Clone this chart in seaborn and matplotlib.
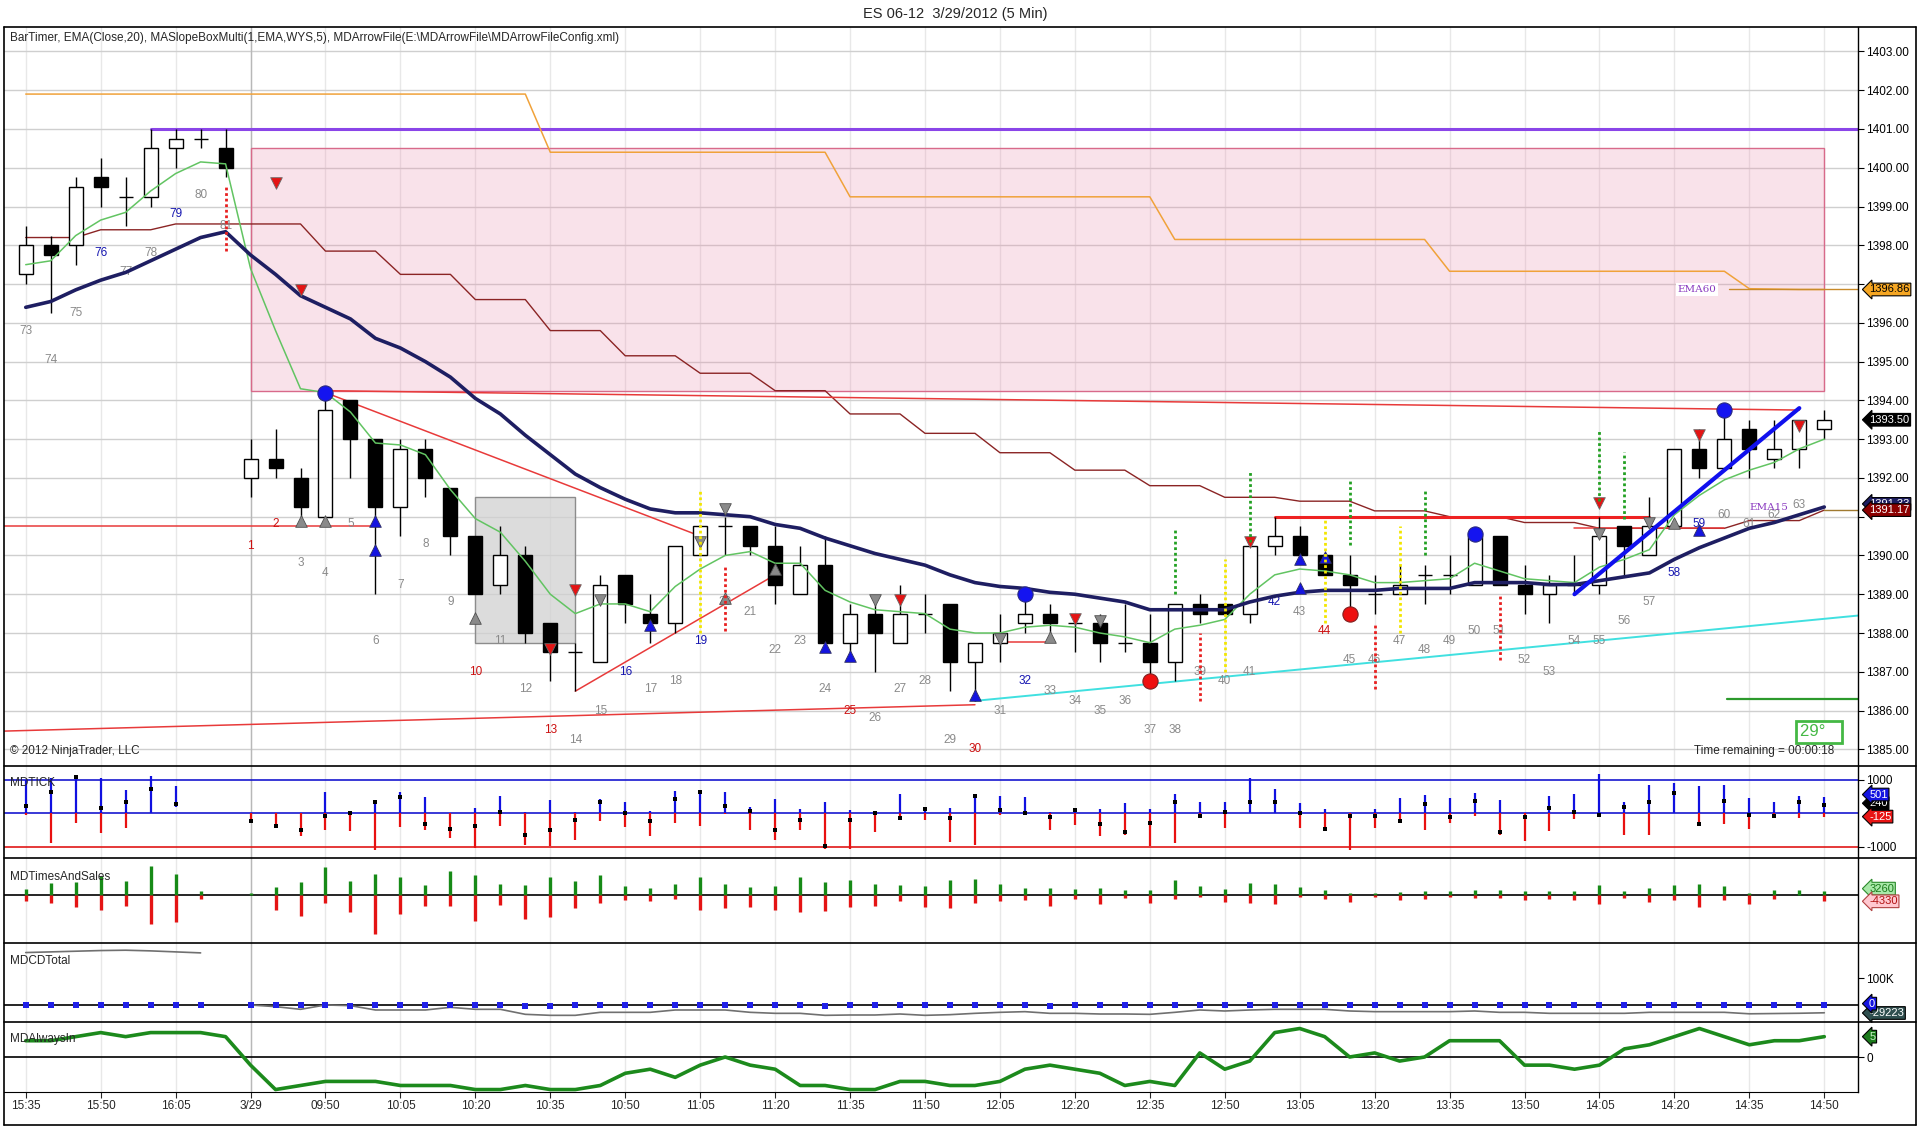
import numpy as np
import matplotlib
matplotlib.use('Agg')
import matplotlib.pyplot as plt
import seaborn as sns
from matplotlib.lines import Line2D
from matplotlib.patches import Rectangle

sns.set_style('white')
plt.rcParams['font.family'] = ['Liberation Sans', 'DejaVu Sans']

# ---------------- data ----------------
time_labels = ['15:35', '15:50', '16:05', '3/29', '09:50', '10:05', '10:20', '10:35', '10:50',
               '11:05', '11:20', '11:35', '11:50', '12:05', '12:20', '12:35', '12:50', '13:05',
               '13:20', '13:35', '13:50', '14:05', '14:20', '14:35', '14:50']
time_label_bars = [0, 3, 6, 9, 12, 15, 18, 21, 24, 27, 30, 33, 36, 39, 42, 45, 48, 51,
                   54, 57, 60, 63, 66, 69, 72]

opens = [1397.25, 1398.0, 1398.0, 1399.75, 1399.25, 1399.25, 1400.5, 1400.75, 1400.5,
         1392.0, 1392.5, 1392.0, 1391.0, 1394.0, 1393.0, 1391.25, 1392.75, 1391.75, 1390.5,
         1389.25, 1390.0, 1388.25, 1387.5, 1387.25, 1389.5, 1388.5, 1388.25, 1390.0, 1390.75,
         1390.75, 1390.25, 1389.0, 1389.75, 1387.75, 1388.5, 1387.75, 1388.5, 1388.75, 1387.25,
         1387.75, 1388.25, 1388.5, 1388.25, 1388.25, 1387.75, 1387.75, 1387.25, 1388.75, 1388.75,
         1388.5, 1390.25, 1390.5, 1390.0, 1389.5, 1389.0, 1389.0, 1389.5, 1389.5, 1389.25,
         1390.5, 1389.25, 1389.0, 1389.25, 1389.25, 1390.75, 1390.0, 1390.75, 1392.75, 1392.25,
         1393.25, 1392.5, 1392.75, 1393.25]
highs = [1398.5, 1398.25, 1399.75, 1400.25, 1399.75, 1401.0, 1401.0, 1401.0, 1401.0,
         1393.0, 1393.25, 1392.25, 1394.0, 1394.0, 1393.0, 1393.0, 1393.0, 1391.75, 1390.5,
         1390.75, 1390.25, 1388.25, 1387.75, 1389.5, 1389.5, 1389.0, 1390.25, 1390.75, 1391.0,
         1390.75, 1390.75, 1390.25, 1390.5, 1388.75, 1388.75, 1389.25, 1389.0, 1388.75, 1387.75,
         1388.5, 1389.0, 1388.75, 1388.5, 1388.5, 1388.75, 1388.5, 1388.75, 1389.0, 1388.75,
         1390.25, 1391.0, 1390.75, 1390.0, 1390.0, 1389.5, 1389.75, 1389.75, 1390.0, 1390.5,
         1390.5, 1389.75, 1389.5, 1390.0, 1391.0, 1390.75, 1391.5, 1392.75, 1393.25, 1393.75,
         1393.5, 1393.5, 1393.5, 1393.75]
lows = [1397.0, 1396.25, 1397.5, 1399.0, 1398.5, 1399.0, 1400.0, 1400.5, 1399.75,
        1391.5, 1392.0, 1391.0, 1391.0, 1392.0, 1389.0, 1390.5, 1391.5, 1390.0, 1389.0,
        1389.0, 1387.75, 1386.75, 1386.5, 1387.25, 1388.25, 1387.75, 1388.0, 1390.0, 1390.0,
        1390.0, 1388.75, 1389.0, 1387.75, 1387.5, 1387.0, 1387.75, 1388.0, 1386.5, 1386.25,
        1387.25, 1388.0, 1388.0, 1387.5, 1387.25, 1387.5, 1386.75, 1386.75, 1388.25, 1388.5,
        1388.25, 1390.0, 1390.0, 1389.5, 1388.5, 1388.5, 1389.0, 1388.75, 1389.0, 1389.25,
        1389.25, 1388.5, 1388.25, 1389.0, 1389.0, 1389.5, 1390.0, 1390.75, 1392.0, 1392.25,
        1392.0, 1392.25, 1392.25, 1393.0]
closes = [1398.0, 1397.75, 1399.5, 1399.5, 1399.25, 1400.5, 1400.75, 1400.75, 1400.0,
          1392.5, 1392.25, 1391.25, 1393.75, 1393.0, 1391.25, 1392.75, 1392.0, 1390.5, 1389.0,
          1390.0, 1388.0, 1387.5, 1387.5, 1389.25, 1388.75, 1388.25, 1390.25, 1390.75, 1390.75,
          1390.25, 1389.25, 1389.75, 1387.75, 1388.5, 1388.0, 1388.5, 1388.5, 1387.25, 1387.75,
          1388.0, 1388.5, 1388.25, 1388.25, 1387.75, 1387.75, 1387.25, 1388.75, 1388.5, 1388.5,
          1390.25, 1390.5, 1390.0, 1389.5, 1389.25, 1389.0, 1389.25, 1389.5, 1389.5, 1390.5,
          1389.25, 1389.0, 1389.25, 1389.25, 1390.5, 1390.25, 1390.75, 1392.75, 1392.25, 1393.0,
          1392.75, 1392.75, 1393.5, 1393.5]

ema_fast = [1397.5, 1397.6, 1398.25, 1398.65, 1398.85, 1399.4, 1399.85, 1400.15, 1400.1,
            1397.4, 1395.8, 1394.3, 1394.2, 1393.7, 1392.9, 1392.85, 1392.6, 1391.7, 1390.95,
            1390.6, 1389.85, 1389.0, 1388.5, 1388.75, 1388.75, 1388.55, 1389.2, 1389.65, 1390.0,
            1390.1, 1389.8, 1389.8, 1389.1, 1388.8, 1388.6, 1388.55, 1388.5, 1388.1, 1388.0,
            1388.0, 1388.15, 1388.2, 1388.15, 1388.0, 1387.9, 1387.75, 1388.1, 1388.2, 1388.35,
            1389.0, 1389.5, 1389.65, 1389.6, 1389.5, 1389.3, 1389.3, 1389.35, 1389.4, 1389.8,
            1389.6, 1389.4, 1389.35, 1389.3, 1389.7, 1389.9, 1390.15, 1391.05, 1391.55, 1391.95,
            1392.2, 1392.4, 1392.75, 1393.0]
ema_slow = [1396.4, 1396.55, 1396.85, 1397.1, 1397.3, 1397.6, 1397.9, 1398.2, 1398.35,
            1397.75, 1397.25, 1396.7, 1396.4, 1396.1, 1395.6, 1395.35, 1395.0, 1394.6, 1394.05,
            1393.65, 1393.1, 1392.6, 1392.1, 1391.75, 1391.45, 1391.2, 1391.1, 1391.1, 1391.05,
            1391.0, 1390.8, 1390.7, 1390.45, 1390.25, 1390.05, 1389.9, 1389.75, 1389.5, 1389.3,
            1389.2, 1389.15, 1389.05, 1389.0, 1388.9, 1388.8, 1388.6, 1388.6, 1388.6, 1388.6,
            1388.8, 1388.95, 1389.05, 1389.1, 1389.1, 1389.1, 1389.15, 1389.15, 1389.15, 1389.3,
            1389.3, 1389.3, 1389.25, 1389.25, 1389.35, 1389.45, 1389.55, 1389.9, 1390.2, 1390.45,
            1390.7, 1390.85, 1391.05, 1391.25]
ema15 = [1398.2, 1398.2, 1398.2, 1398.4, 1398.4, 1398.4, 1398.55, 1398.55, 1398.55,
         1398.55, 1398.55, 1398.55, 1397.85, 1397.85, 1397.85, 1397.25, 1397.25, 1397.25, 1396.6,
         1396.6, 1396.6, 1395.8, 1395.8, 1395.8, 1395.15, 1395.15, 1395.15, 1394.7, 1394.7,
         1394.7, 1394.25, 1394.25, 1394.25, 1393.65, 1393.65, 1393.65, 1393.15, 1393.15, 1393.15,
         1392.65, 1392.65, 1392.65, 1392.2, 1392.2, 1392.2, 1391.8, 1391.8, 1391.8, 1391.5,
         1391.5, 1391.5, 1391.4, 1391.4, 1391.4, 1391.15, 1391.15, 1391.15, 1391.0, 1391.0,
         1391.0, 1390.85, 1390.85, 1390.85, 1390.7, 1390.7, 1390.7, 1390.7, 1390.7, 1390.7,
         1390.9, 1390.9, 1390.9, 1391.17]
ema60 = [1401.9, 1401.9, 1401.9, 1401.9, 1401.9, 1401.9, 1401.9, 1401.9, 1401.9,
         1401.9, 1401.9, 1401.9, 1401.9, 1401.9, 1401.9, 1401.9, 1401.9, 1401.9, 1401.9,
         1401.9, 1401.9, 1400.4, 1400.4, 1400.4, 1400.4, 1400.4, 1400.4, 1400.4, 1400.4,
         1400.4, 1400.4, 1400.4, 1400.4, 1399.25, 1399.25, 1399.25, 1399.25, 1399.25, 1399.25,
         1399.25, 1399.25, 1399.25, 1399.25, 1399.25, 1399.25, 1399.25, 1398.15, 1398.15, 1398.15,
         1398.15, 1398.15, 1398.15, 1398.15, 1398.15, 1398.15, 1398.15, 1398.15, 1397.33, 1397.33,
         1397.33, 1397.33, 1397.33, 1397.33, 1397.33, 1397.33, 1397.33, 1397.33, 1397.33, 1397.33,
         1396.88, 1396.87, 1396.86, 1396.86]

# bar numbers printed under / near the bars
bar_numbers = [str(n) for n in range(73, 82)] + [str(n) for n in range(1, 64)]
bar_number_y = [1395.8, 1395.05, 1396.25, 1397.8, 1397.3, 1397.8, 1398.8, 1399.3, 1398.5,
                1390.25, 1390.8, 1389.8, 1389.55, 1390.8, 1387.8, 1389.25, 1390.3, 1388.8, 1387.0,
                1387.8, 1386.55, 1385.5, 1385.25, 1386.0, 1387.0, 1386.55, 1386.75, 1387.8, 1388.8,
                1388.55, 1387.55, 1387.8, 1386.55, 1386.0, 1385.8, 1386.55, 1386.75, 1385.25, 1385.0,
                1386.0, 1386.75, 1386.5, 1386.25, 1386.0, 1386.25, 1385.5, 1385.5, 1387.0, 1386.75,
                1387.0, 1388.8, 1388.55, 1388.05, 1387.3, 1387.3, 1387.8, 1387.55, 1387.8, 1388.05,
                1388.05, 1387.3, 1387.0, 1387.8, 1387.8, 1388.3, 1388.8, 1389.55, 1390.8, 1391.05,
                1390.8, 1391.05, 1391.3]
blue_numbers = ['76', '79', '16', '19', '32', '42', '58', '59']
red_numbers = ['1', '2', '10', '13', '25', '30', '44']

# signal markers (bar index, price)
dots_blue_x = [12, 40, 58, 68]
dots_blue_y = [1394.2, 1389.0, 1390.55, 1393.75]
dots_red_x = [45, 53]
dots_red_y = [1386.75, 1388.5]
tri_dn_red_x = [10, 11, 21, 22, 35, 42, 49, 63, 67, 71]
tri_dn_red_y = [1399.6, 1396.85, 1387.6, 1389.1, 1388.85, 1388.35, 1390.35, 1391.35, 1393.1, 1393.35]
tri_dn_gray_x = [23, 27, 28, 34, 39, 43, 63, 65]
tri_dn_gray_y = [1388.85, 1390.35, 1391.2, 1388.85, 1387.85, 1388.3, 1390.55, 1390.85]
tri_up_gray_x = [11, 12, 18, 28, 30, 41, 66]
tri_up_gray_y = [1390.9, 1390.9, 1388.4, 1388.9, 1389.65, 1387.9, 1390.85]
tri_up_blue_x = [14, 14, 25, 32, 33, 38, 51, 51, 52, 67]
tri_up_blue_y = [1390.9, 1390.15, 1388.2, 1387.65, 1387.4, 1386.4, 1389.9, 1389.15, 1389.95, 1390.65]

# dotted signal bars: (bar, from, to)
dotted_red = [(8, 1397.85, 1399.5), (28, 1388.05, 1389.75), (47, 1386.25, 1388.0),
              (54, 1386.55, 1388.25), (59, 1387.3, 1389.0)]
dotted_yellow = [(27, 1388.0, 1391.7), (48, 1387.0, 1389.9), (52, 1388.25, 1390.95),
                 (55, 1388.0, 1390.75)]
dotted_green = [(46, 1389.0, 1390.7), (49, 1390.35, 1392.2), (53, 1390.27, 1391.95),
                (56, 1390.0, 1391.7), (63, 1391.4, 1393.2), (64, 1390.95, 1392.67)]

# drawn objects: ([x0, x1], [y0, y1])
trend_red = {
    'top': ([12, 71], [1394.25, 1393.75]),
    'down': ([12, 27], [1394.2, 1390.5]),
    'up': ([22, 30], [1386.5, 1389.5]),
    'flat': ([-0.87, 14], [1390.75, 1390.75]),
    'base': ([-0.87, 38], [1385.47, 1386.15]),
    'short': ([39, 41], [1387.78, 1387.78]),
    'res_thin': ([62, 68], [1390.7, 1390.7]),
}
trend_red_thick = ([50, 65], [1391.0, 1391.0])
trend_cyan = ([38, 73.35], [1386.25, 1388.45])
trend_blue = ([62, 71], [1389.0, 1393.8])
hline_purple = ([5, 73.35], [1401.0, 1401.0])
hline_green = ([68.1, 73.35], [1386.3, 1386.3])
slope_box = (9, 72, 1394.25, 1400.5)
gray_box = (18, 22, 1387.75, 1391.5)

# MDTICK per bar (high, low, close); bars 7 and 8 empty
tick_hi = [1000, 1040, 1110, 1040, 690, 1110, 810, np.nan, np.nan,
           0, 0, 0, 630, 50, 400, 630, 500, 0, 150, 510, 50, 400, 50, 420, 340, 70, 660,
           690, 630, 200, 430, 130, 340, 100, 0, 580, 200, 160, 590, 510, 480, 50, 100,
           120, 320, 120, 590, 340, 340, 1040, 720, 320, 120, 0, 120, 470, 540, 470, 610,
           400, 0, 510, 580, 1170, 340, 840, 900, 810, 840, 470, 340, 510, 501]
tick_lo = [-50, -890, -280, -590, -450, 0, 200, np.nan, np.nan,
           -250, -450, -690, -500, -540, -1110, -400, -500, -740, -1040, -380, -940, -990,
           -790, -220, -400, -690, -300, -380, -30, -500, -810, -500, -1070, -1070, -570,
           -200, -200, -870, -940, -50, 0, -510, -350, -690, -640, -970, -890, -70, -450,
           0, 0, -450, -470, -1090, -450, -230, -500, -300, -80, -640, -840, -520, -170,
           -60, -640, -640, 0, -350, -320, -470, -150, -130, -125]
tick_close = [220, 640, 1070, 170, 350, 720, 270, np.nan, np.nan,
              -220, -370, -500, -70, 0, 330, 500, -320, -460, -370, 30, -640, -500, -200,
              340, 0, -220, 440, 640, 230, 70, -500, -200, -990, -200, 0, -130, 130, -130,
              520, 100, 0, -100, 100, -330, -570, -300, 350, -70, 50, 340, 330, 20, -470,
              -70, -70, -230, 290, -100, 370, -570, -100, 170, 50, -60, 200, 330, 610, -320,
              380, -60, -80, 350, 240]

# MDTimesAndSales per bar (buy volume up, sell volume down)
ts_buy = [4750, 9000, 9750, 14500, 10750, 22000, 16000, 3250, np.nan,
          2000, 6250, 10000, 21500, 10750, 16000, 14000, 7750, 18000, 15000, 8500, 7750,
          13750, 10750, 15500, 7000, 5500, 8500, 13750, 8500, 6500, 7000, 13750, 10000,
          11500, 8500, 8000, 7000, 11500, 12250, 8500, 5500, 5500, 4750, 5500, 4000, 4000,
          11500, 7000, 4750, 9500, 8500, 6250, 4000, 1500, 1500, 2500, 3250, 3250, 4000,
          4000, 3250, 3250, 3250, 7500, 3250, 5500, 7750, 8500, 7000, 1500, 4000, 4000, 3260]
ts_sell = [4000, 5500, 8500, 11000, 7750, 21500, 19750, 2500, np.nan,
           0, 11000, 15250, 5500, 12250, 29250, 14000, 8000, 7750, 19000, 7500, 18000,
           16000, 9250, 5500, 3500, 4000, 2500, 11000, 9250, 8500, 11000, 12250, 11500,
           8500, 7750, 4000, 8500, 9250, 6000, 4250, 3500, 8000, 2500, 6500, 1750, 6000,
           3000, 1000, 5000, 5500, 6500, 1000, 2500, 4750, 1000, 3500, 2500, 1000, 2250,
           2250, 3500, 2500, 3500, 6500, 1750, 4750, 3500, 8500, 3500, 6500, 3000, 0, 4330]

# MDCDTotal (thousands): cumulative delta line, previous session and today
cd_prev = [196.25, 198.75, 201.25, 203.75, 205.0, 202.5, 198.75, 195.0]
cd_today = [0, -6.25, -16.25, 0, -2.5, -18.75, -18.75, -18.75, -8.75, -16.25, -16.25, -35.0,
            -38.75, -38.75, -27.5, -27.5, -27.5, -18.75, -18.75, -18.75, -27.5, -31.25, -31.25,
            -38.75, -37.5, -37.5, -33.75, -38.75, -36.25, -31.25, -27.5, -25.0, -31.25, -31.25,
            -33.75, -33.75, -35.0, -27.5, -18.75, -22.5, -18.75, -16.25, -16.25, -16.25, -22.5,
            -25.0, -25.0, -25.0, -25.0, -22.5, -27.5, -27.5, -31.25, -31.25, -31.25, -31.25,
            -27.5, -27.5, -27.5, -27.5, -33.0, -32.0, -31.0, -29.22]
cd_bar = [0, 0, 0, 0, 0, 0, 0, 0, np.nan,
          0, 0, 0, 0, -2.5, 0, 0, 0, 0, 0, 0, -3, -3, 0, 0, 0, 0, 0, 0, 0, 0, 0, 0, -3,
          0, 0, 0, 0, 0, 0, 0, 0, -3, 0, 0, 0, 0, 0, 0, 0, 0, 0, 0, 0, 0, 0, 0, 0, 0, 0,
          0, 0, 0, 0, 0, 0, 0, 0, 0, 0, 0, 0, 0, 0]

# MDAlwaysIn score per bar
always_in = [4, 4, 5, 6, 5, 6, 6, 6, 5,
             -2, -8, -7, -6, -6, -6, -7, -7, -7, -8, -8, -7, -8, -8, -7, -4, -3, -5, -2, 0,
             -2, -3, -7, -7, -8, -8, -6, -6, -7, -7, -6, -3, -2, -3, -4, -7, -6, -7, 1, -3,
             -1, 6, 7, 5, 0, 1, -1, 0, 4, 4, 4, -2, -2, -3, -2, 2, 3, 5, 7, 5, 3, 4, 4, 5]

bars = np.arange(len(opens))
XLIM = (-0.87, 73.35)

# ---------------- layout (pixel based) ----------------
W, H = 1920, 1136
fig = plt.figure(figsize=(W / 100, H / 100), dpi=100)


def fx(px):
    return px / W


def fy(py):
    return 1 - py / H


def panel(top, bottom):
    return fig.add_axes([fx(4), fy(bottom), fx(1858) - fx(4), fy(top) - fy(bottom)])


ax_p = panel(27, 766)
ax_k = panel(766, 858)
ax_t = panel(858, 943)
ax_c = panel(943, 1022)
ax_a = panel(1022, 1092)
axes = [ax_p, ax_k, ax_t, ax_c, ax_a]

FS = 8.5
for ax in axes:
    ax.set_facecolor('white')
    for s in ['left', 'top', 'bottom']:
        ax.spines[s].set_visible(False)
    ax.spines['right'].set_color('black')
    ax.spines['right'].set_linewidth(1)
    ax.yaxis.tick_right()
    ax.tick_params(axis='y', direction='out', length=4, width=0.8, pad=2, labelsize=FS,
                   colors='black', right=True, left=False)
    ax.set_xticks(time_label_bars)
    ax.tick_params(axis='x', bottom=False, labelbottom=False)
    ax.set_axisbelow(True)
    ax.grid(axis='x', color='#e8e8e8', lw=1)
    ax.axvline(9, color='#b8b8b8', lw=1, zorder=0.6)

# ---------------- price panel ----------------
ax = ax_p
ax.grid(axis='y', color='#cfcfcf', lw=1)
ax.set_yticks(range(1385, 1404))
# 1397 and 1391 sit behind the value tags on the axis
ax.set_yticklabels(['' if v in (1397, 1391) else f'{v:.2f}' for v in range(1385, 1404)])

x0, x1, y0, y1 = slope_box
ax.add_patch(Rectangle((x0, y0), x1 - x0, y1 - y0, fc=(0.92, 0.55, 0.68, 0.25),
                       ec='#d86a8a', lw=1, zorder=0.8))
x0, x1, y0, y1 = gray_box
ax.add_patch(Rectangle((x0, y0), x1 - x0, y1 - y0, fc=(0.82, 0.82, 0.82, 0.75),
                       ec='#8c8c8c', lw=1, zorder=0.9))

# bar numbers
for x, lab, y in zip(bars, bar_numbers, bar_number_y):
    col = '#1515b0' if lab in blue_numbers else ('#cc1010' if lab in red_numbers else '#8a8a8a')
    ax.text(x, y, lab, color=col, fontsize=FS, ha='center', va='center', zorder=2)

# reference lines behind the bars
ax.plot(*hline_purple, color='#8a45e8', lw=2.2, zorder=1.5)
sns.lineplot(x=bars, y=ema60, ax=ax, color='#f0a23a', linewidth=1.1, zorder=1.6)
ax.plot([68.2, 73.35], [1396.86, 1396.86], color='#c88a2a', lw=1, zorder=1.6)
sns.lineplot(x=bars, y=ema15, ax=ax, color='#8b2424', linewidth=1.0, zorder=1.6)
ax.plot([72, 73.35], [1391.17, 1391.17], color='#a07a30', lw=1, zorder=1.6)
for name, (xs, ys) in trend_red.items():
    ax.plot(xs, ys, color='#e83a3a', lw=1.1, zorder=1.7)
ax.plot(*trend_red_thick, color='#ee2222', lw=2.2, zorder=1.7)
ax.plot(*trend_cyan, color='#40e0e0', lw=1.4, zorder=1.7)
ax.plot(*hline_green, color='#2c9a2c', lw=1.6, zorder=1.7)

# candles
body_lo = np.minimum(opens, closes)
body_hi = np.maximum(opens, closes)
body_col = ['white' if c >= o else 'black' for o, c in zip(opens, closes)]
ax.vlines(bars, lows, highs, color='black', lw=1, zorder=3)
ax.bar(bars, body_hi - body_lo, bottom=body_lo, width=0.56, color=body_col,
       edgecolor='black', linewidth=1, zorder=3.1)

# moving averages on top of bars
sns.lineplot(x=bars, y=ema_fast, ax=ax, color='#62c462', linewidth=1.1, zorder=4)
sns.lineplot(x=bars, y=ema_slow, ax=ax, color='#1e1e62', linewidth=2.6, zorder=4.1)
ax.plot(*trend_blue, color='#1010ee', lw=3, zorder=4.2)

# signal markers
sns.scatterplot(x=dots_blue_x, y=dots_blue_y, ax=ax, marker='o', s=120, color='#1414f0',
                edgecolor='#2a2a80', linewidth=0.8, zorder=6, legend=False)
sns.scatterplot(x=dots_red_x, y=dots_red_y, ax=ax, marker='o', s=120, color='#ee1010',
                edgecolor='#802020', linewidth=0.8, zorder=6, legend=False)
sns.scatterplot(x=tri_dn_red_x, y=tri_dn_red_y, ax=ax, marker='v', s=70, color='#e41414',
                edgecolor='#6a6a6a', linewidth=0.6, zorder=6, legend=False)
sns.scatterplot(x=tri_dn_gray_x, y=tri_dn_gray_y, ax=ax, marker='v', s=70, color='#8a8a8a',
                edgecolor='#505050', linewidth=0.6, zorder=6, legend=False)
sns.scatterplot(x=tri_up_gray_x, y=tri_up_gray_y, ax=ax, marker='^', s=70, color='#8a8a8a',
                edgecolor='#505050', linewidth=0.6, zorder=6, legend=False)
sns.scatterplot(x=tri_up_blue_x, y=tri_up_blue_y, ax=ax, marker='^', s=70, color='#1414e0',
                edgecolor='#303060', linewidth=0.6, zorder=6, legend=False)

for items, col in [(dotted_red, '#e82020'), (dotted_yellow, '#f2e600'), (dotted_green, '#22a022')]:
    for x, a, b in items:
        ax.vlines(x, a, b, colors=col, linestyles=(0, (1, 1)), lw=2, zorder=7)

ax.text(66.9, 1396.86, 'EMA60', color='#8a3ac0', fontsize=7.5, family='DejaVu Serif',
        ha='center', va='center', zorder=8,
        bbox=dict(boxstyle='square,pad=0.15', fc='white', ec='none'))
ax.text(69.8, 1391.25, 'EMA15', color='#8a3ac0', fontsize=7.5, family='DejaVu Serif',
        ha='center', va='center', zorder=8)

ax.text(0.003, 0.985, 'BarTimer, EMA(Close,20), MASlopeBoxMulti(1,EMA,WYS,5), '
        'MDArrowFile(E:\\MDArrowFile\\MDArrowFileConfig.xml)', transform=ax.transAxes,
        fontsize=FS, ha='left', va='center')
ax.text(0.003, 0.012, '\u00a9 2012 NinjaTrader, LLC', transform=ax.transAxes,
        fontsize=FS, ha='left', va='bottom')
ax.text(0.987, 0.012, 'Time remaining = 00:00:18', transform=ax.transAxes,
        fontsize=FS, ha='right', va='bottom')
ax.text(71.8, 1385.45, '29\u00b0   ', color='#44b844', fontsize=12, ha='center', va='center',
        zorder=8, bbox=dict(boxstyle='square,pad=0.2', fc='white', ec='#44b844', lw=2))


def tag(a, y, text, face, fg, edge='black'):
    a.text(1.006, y, text, transform=a.get_yaxis_transform(), fontsize=8, color=fg,
           ha='left', va='center', zorder=10, clip_on=False,
           bbox=dict(boxstyle='larrow,pad=0.12', fc=face, ec=edge, lw=0.8))


tag(ax_p, 1396.86, '1396.86', '#f5a623', 'black')
tag(ax_p, 1393.5, '1393.50', 'black', 'white')
tag(ax_p, 1391.33, '1391.33', '#1e1e62', 'white')
tag(ax_p, 1391.17, '1391.17', '#8b0000', 'white')

ax.set_ylim(1384.57, 1403.63)

# ---------------- MDTICK ----------------
ax = ax_k
hi = np.array(tick_hi, dtype=float)
lo = np.array(tick_lo, dtype=float)
ax.axhline(1000, color='#1818d0', lw=1.2, zorder=1)
ax.axhline(-1000, color='#e01818', lw=1.2, zorder=1)
ax.axhline(0, color='#1818d0', lw=1.2, zorder=1)
ax.vlines(bars, np.maximum(lo, 0), np.maximum(hi, 0), color='#1010e0', lw=1.6, zorder=2)
ax.vlines(bars, np.minimum(lo, 0), np.minimum(hi, 0), color='#e81010', lw=1.6, zorder=2)
sns.scatterplot(x=bars, y=tick_close, ax=ax, marker='s', s=10, color='black',
                linewidth=0, zorder=3, legend=False)
ax.set_yticks([1000, -1000])
ax.set_yticklabels(['1000', '-1000'])
ax.set_ylim(-1334, 1412)
ax.text(0.003, 0.82, 'MDTICK', transform=ax.transAxes, fontsize=FS, ha='left', va='center')
tag(ax_k, 300, '240', 'black', 'white')
tag(ax_k, 560, '501', '#1414e0', 'white')
tag(ax_k, -99, '-125', '#e81414', 'white')

# ---------------- MDTimesAndSales ----------------
ax = ax_t
ax.axhline(0, color='black', lw=1.2, zorder=1)
ax.vlines(bars, 0, ts_buy, color='#178a17', lw=2.4, zorder=2)
ax.vlines(bars, 0, -np.array(ts_sell, dtype=float), color='#e41414', lw=2.4, zorder=2)
ax.set_yticks([])
ax.set_ylim(-35775, 27975)
ax.text(0.003, 0.78, 'MDTimesAndSales', transform=ax.transAxes, fontsize=FS, ha='left',
        va='center')
tag(ax_t, 5000, '3260', '#a8e8a8', '#1a7a1a', edge='#2a8a2a')
tag(ax_t, -4500, '-4330', '#ffc8d0', '#b01010', edge='#b04040')

# ---------------- MDCDTotal ----------------
ax = ax_c
ax.axhline(0, color='black', lw=1.2, zorder=1)
sns.lineplot(x=bars[:8], y=cd_prev, ax=ax, color='#707070', linewidth=1.2, zorder=2)
sns.lineplot(x=bars[9:], y=cd_today, ax=ax, color='#707070', linewidth=1.2, zorder=2)
sns.scatterplot(x=bars, y=cd_bar, ax=ax, marker='s', s=14, color='#2020e8', linewidth=0,
                zorder=3, legend=False)
ax.set_yticks([100])
ax.set_yticklabels(['100K'])
ax.set_ylim(-63.7, 232)
ax.text(0.003, 0.77, 'MDCDTotal', transform=ax.transAxes, fontsize=FS, ha='left', va='center')
tag(ax_c, -30, '-29223', '#2f4f4f', 'white')
tag(ax_c, 5, '0', '#1414e0', 'white')

# ---------------- MDAlwaysIn ----------------
ax = ax_a
ax.spines['bottom'].set_visible(True)
ax.spines['bottom'].set_color('black')
ax.axhline(0, color='black', lw=1.2, zorder=1)
sns.lineplot(x=bars, y=always_in, ax=ax, color='#1c8a1c', linewidth=2.6, zorder=2)
ax.set_yticks([0])
ax.set_yticklabels(['0'])
ax.set_ylim(-8.6, 8.6)
ax.text(0.003, 0.76, 'MDAlwaysIn', transform=ax.transAxes, fontsize=FS, ha='left', va='center')
tag(ax_a, 5, '5', '#1c7a1c', '#c8f0c8')
ax.tick_params(axis='x', bottom=True, labelbottom=True, direction='out', length=4,
               labelsize=FS, pad=2)
ax.set_xticklabels(time_labels)

for a in axes:
    a.set_xlim(*XLIM)
    a.set_xlabel('')
    a.set_ylabel('')

# ---------------- frame and title ----------------
for py in [27, 766, 858, 943, 1022]:
    fig.add_artist(Line2D([fx(4), fx(1916)], [fy(py), fy(py)], color='black', lw=1.2))
fig.add_artist(Line2D([fx(4), fx(1916)], [fy(1125), fy(1125)], color='black', lw=1.2))
fig.add_artist(Line2D([fx(4), fx(4)], [fy(27), fy(1125)], color='black', lw=1.2))
fig.add_artist(Line2D([fx(1916), fx(1916)], [fy(27), fy(1125)], color='black', lw=1.2))
fig.text(fx(955), fy(14), 'ES 06-12  3/29/2012 (5 Min)', fontsize=10.5, ha='center',
         va='center')

fig.savefig('out.png', dpi=100)
